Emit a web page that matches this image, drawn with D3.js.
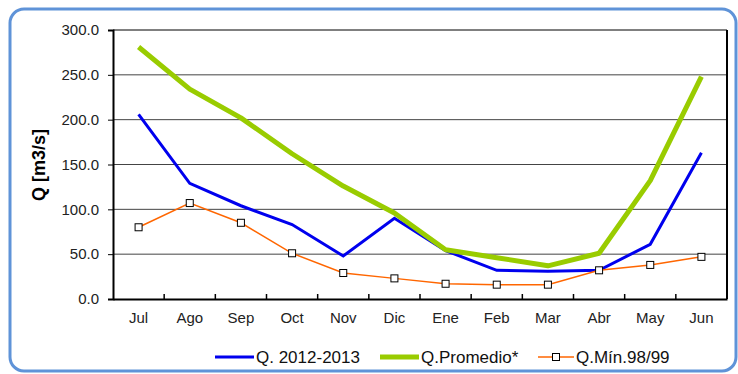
<!DOCTYPE html>
<html>
<head>
<meta charset="utf-8">
<script src="https://cdn.jsdelivr.net/npm/d3@7"></script>
<style>
  body { margin: 0; background: #fff; }
  svg { display: block; font-family: "Liberation Sans", Arial, sans-serif; }
</style>
</head>
<body>
<div id="chart"></div>
<script>
const months = ['Jul', 'Ago', 'Sep', 'Oct', 'Nov', 'Dic', 'Ene', 'Feb', 'Mar', 'Abr', 'May', 'Jun'];
const q2012 = [206, 129, 104, 83, 48, 90, 54, 32, 31, 32, 61, 163];
const qProm = [281, 234, 202, 162, 126, 96, 55, 46, 37, 51, 132, 248];
const qMin = [80, 107, 85, 51, 29, 23, 17, 16, 16, 32, 38, 47];
const yTicks = [0, 50, 100, 150, 200, 250, 300];

const width = 738, height = 374;
const margin = { top: 30, right: 11, bottom: 75, left: 113 };
const font = '"Liberation Sans", Arial, sans-serif';

const svg = d3.select('#chart').append('svg')
  .attr('width', width).attr('height', height);

// rounded frame
svg.append('rect')
  .attr('x', 10).attr('y', 9)
  .attr('width', 726).attr('height', 362)
  .attr('rx', 14).attr('ry', 14)
  .attr('fill', 'none')
  .attr('stroke', '#5f93d8')
  .attr('stroke-width', 3);

const x = d3.scaleBand().domain(months)
  .range([margin.left, width - margin.right]);
const y = d3.scaleLinear().domain([0, 300])
  .range([height - margin.bottom, margin.top]);

const g = svg.append('g');

// grid lines
g.selectAll('line.grid')
  .data(yTicks.slice(1))
  .enter().append('line')
  .attr('class', 'grid')
  .attr('x1', margin.left).attr('x2', width - margin.right)
  .attr('y1', d => y(d)).attr('y2', d => y(d))
  .attr('stroke', d => d === 300 ? '#000' : '#444')
  .attr('stroke-width', 1);

// plot border right
g.append('line')
  .attr('x1', width - margin.right).attr('x2', width - margin.right)
  .attr('y1', y(300)).attr('y2', y(0))
  .attr('stroke', '#000').attr('stroke-width', 2);

// y axis
const yAxis = g.append('g')
  .attr('transform', `translate(${margin.left},0)`)
  .call(d3.axisLeft(y).tickValues(yTicks).tickFormat(d3.format('.1f')).tickSize(5).tickPadding(9));
yAxis.select('.domain').attr('stroke-width', 2);
yAxis.selectAll('.tick text').attr('font-size', 15).attr('fill', '#222')
  .attr('font-family', font);

// x axis with ticks between categories pointing up
const xAxis = g.append('g')
  .attr('transform', `translate(0,${y(0)})`)
  .call(d3.axisBottom(x).tickSize(0).tickPadding(13));
xAxis.select('.domain').attr('stroke-width', 2);
xAxis.selectAll('.tick text').attr('font-size', 15).attr('fill', '#222')
  .attr('font-family', font);
g.selectAll('line.xtick')
  .data(months.slice(1))
  .enter().append('line')
  .attr('class', 'xtick')
  .attr('x1', d => x(d)).attr('x2', d => x(d))
  .attr('y1', y(0)).attr('y2', y(0) - 5)
  .attr('stroke', '#000').attr('stroke-width', 1.5);

// y title
svg.append('text')
  .attr('transform', `translate(45,165) rotate(-90)`)
  .attr('text-anchor', 'middle')
  .attr('font-size', 18).attr('font-weight', 'bold')
  .text('Q [m3/s]');

const cx = d => x(d) + x.bandwidth() / 2;
const line = d3.line().x((d, i) => cx(months[i])).y(d => y(d));

svg.append('path').datum(q2012)
  .attr('d', line).attr('fill', 'none')
  .attr('stroke', '#0000ee').attr('stroke-width', 3);

svg.append('path').datum(qProm)
  .attr('d', line).attr('fill', 'none')
  .attr('stroke', '#99cc00').attr('stroke-width', 5).attr('stroke-linejoin', 'round');

svg.append('path').datum(qMin)
  .attr('d', line).attr('fill', 'none')
  .attr('stroke', '#ff6600').attr('stroke-width', 1.5);

svg.selectAll('rect.mk')
  .data(qMin)
  .enter().append('rect')
  .attr('class', 'mk')
  .attr('x', (d, i) => cx(months[i]) - 3.5)
  .attr('y', d => y(d) - 3.5)
  .attr('width', 7).attr('height', 7)
  .attr('fill', '#fff').attr('stroke', '#000').attr('stroke-width', 1);

// legend
const legend = [
  { name: 'Q. 2012-2013', color: '#0000ee', w: 3, x1: 215, x2: 254, marker: false },
  { name: 'Q.Promedio*', color: '#99cc00', w: 5, x1: 380, x2: 419, marker: false },
  { name: 'Q.Mín.98/99', color: '#ff6600', w: 1.5, x1: 538, x2: 574, marker: true }
];
const ly = 357;
legend.forEach(l => {
  svg.append('line')
    .attr('x1', l.x1).attr('x2', l.x2).attr('y1', ly).attr('y2', ly)
    .attr('stroke', l.color).attr('stroke-width', l.w);
  if (l.marker) {
    svg.append('rect')
      .attr('x', (l.x1 + l.x2) / 2 - 3.5).attr('y', ly - 3.5)
      .attr('width', 7).attr('height', 7)
      .attr('fill', '#fff').attr('stroke', '#000');
  }
  svg.append('text')
    .attr('x', l.x2 + 2).attr('y', ly + 6)
    .attr('font-size', 17).attr('fill', '#111')
    .text(l.name);
});
</script>
</body>
</html>
